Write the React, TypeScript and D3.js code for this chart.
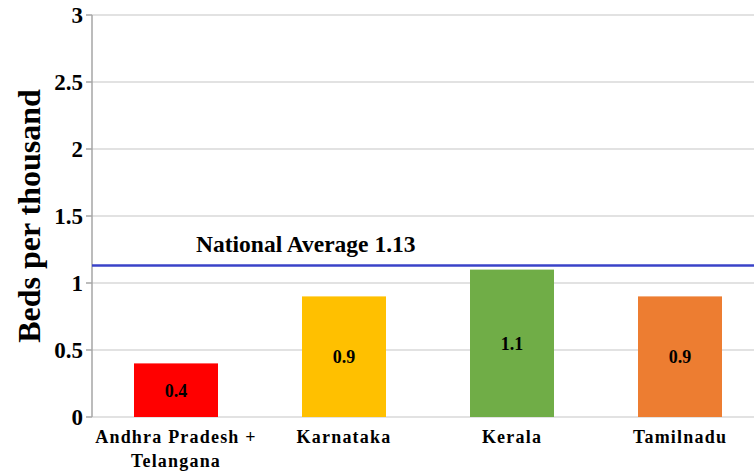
import React from "react";
import * as d3 from "d3";

const categories = ["Andhra Pradesh +|Telangana", "Karnataka", "Kerala", "Tamilnadu"];
const values = [0.4, 0.9, 1.1, 0.9];
const valueLabels = ["0.4", "0.9", "1.1", "0.9"];
const barColors = ["#FF0000", "#FFC000", "#70AD47", "#ED7D31"];
const yTicks = [0, 0.5, 1, 1.5, 2, 2.5, 3];
const nationalAverage = 1.13;
const nationalLabel = "National Average 1.13";
const yTitle = "Beds per thousand";

const W = 754;
const H = 473;
const left = 92;
const top = 15;
const bottom = 417;
const right = 764;
const FONT = "'Liberation Serif', 'DejaVu Serif', serif";
const ts = { fontFamily: FONT, fontWeight: 700 } as React.CSSProperties;

export default function App() {
  const x = d3
    .scaleBand<string>()
    .domain(categories)
    .range([left, right])
    .paddingInner(0.5)
    .paddingOuter(0.25);
  const y = d3.scaleLinear().domain([0, 3]).range([bottom, top]);

  return (
    <svg
      width={W}
      height={H}
      style={{ position: "absolute", left: 0, top: 0, background: "#fff" }}
    >
      {yTicks.map((t) => (
        <g key={t}>
          <line x1={left} x2={W} y1={y(t)} y2={y(t)} stroke="#D9D9D9" strokeWidth={1.5} />
          <line x1={left - 6} x2={left} y1={y(t)} y2={y(t)} stroke="#A6A6A6" strokeWidth={1.5} />
          <text
            x={left - 9}
            y={y(t)}
            dy="0.35em"
            textAnchor="end"
            fontSize={23}
            style={ts}
            fill="#000"
          >
            {t}
          </text>
        </g>
      ))}
      <line x1={left} x2={left} y1={top} y2={bottom} stroke="#A6A6A6" strokeWidth={1.5} />

      {categories.map((c, i) => (
        <g key={c}>
          <rect
            x={x(c)}
            y={y(values[i])}
            width={x.bandwidth()}
            height={bottom - y(values[i])}
            fill={barColors[i]}
          />
          <text
            x={(x(c) as number) + x.bandwidth() / 2}
            y={(y(values[i]) + bottom) / 2}
            dy="0.35em"
            textAnchor="middle"
            fontSize={18}
            style={ts}
            fill="#000"
          >
            {valueLabels[i]}
          </text>
          {c.split("|").map((line, j) => (
            <text
              key={j}
              x={(x(c) as number) + x.bandwidth() / 2}
              y={bottom + 26 + j * 24}
              textAnchor="middle"
              fontSize={18}
              letterSpacing={1.2}
              style={ts}
              fill="#000"
            >
              {line}
            </text>
          ))}
        </g>
      ))}

      <line
        x1={left}
        x2={W}
        y1={y(nationalAverage)}
        y2={y(nationalAverage)}
        stroke="#3A43C8"
        strokeWidth={2.5}
      />
      <text x={196} y={252} fontSize={23.5} style={ts} fill="#000">
        {nationalLabel}
      </text>

      <text
        transform={`translate(40, ${(top + bottom) / 2}) rotate(-90)`}
        textAnchor="middle"
        fontSize={32}
        style={ts}
        fill="#000"
      >
        {yTitle}
      </text>
    </svg>
  );
}
